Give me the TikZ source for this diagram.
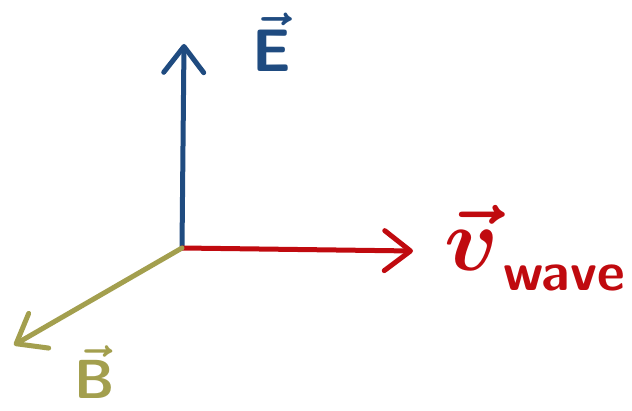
\documentclass[tikz,border=0pt]{standalone}
\usepackage{graphicx}
\usepackage{bm}
\usetikzlibrary{arrows.meta}
\definecolor{eblue}{HTML}{1F4B80}
\definecolor{vred}{HTML}{C00A0F}
\definecolor{bolive}{HTML}{A39F4E}
\begin{document}
\begin{tikzpicture}[x=1pt,y=-1pt,
  vec/.style={line width=5pt,line cap=round,-{Straight Barb[length=26pt,width=40pt,line width=5pt,round]}},
  lbl/.style={inner sep=0pt}]
\useasboundingbox (0,0) rectangle (632,411);
\coordinate (O) at (182,248);
\coordinate (Etip) at (184,44);
\coordinate (Vtip) at (413,251);
\coordinate (Btip) at (14,345);
\draw[vec,eblue] (O) -- (Etip);
\draw[vec,vred] (O) -- (Vtip);
\draw[vec,bolive] (O) -- (Btip);
\node[lbl,text=eblue] (El) at (272,42) {\scalebox{6}{$\bm{\vec{\mathsf{E}}}$}};
\node[lbl,text=vred] (Vl) at (472,238) {\scalebox{9}{$\bm{\vec{v}}$}};
\node[lbl,text=vred,font=\fontsize{54}{54}\selectfont\sffamily\bfseries,anchor=west] (Wl) at (503,278) {wave};
\node[lbl,text=bolive] (Bl) at (95,372) {\scalebox{5.5}{$\bm{\vec{\mathsf{B}}}$}};
\end{tikzpicture}
\end{document}
